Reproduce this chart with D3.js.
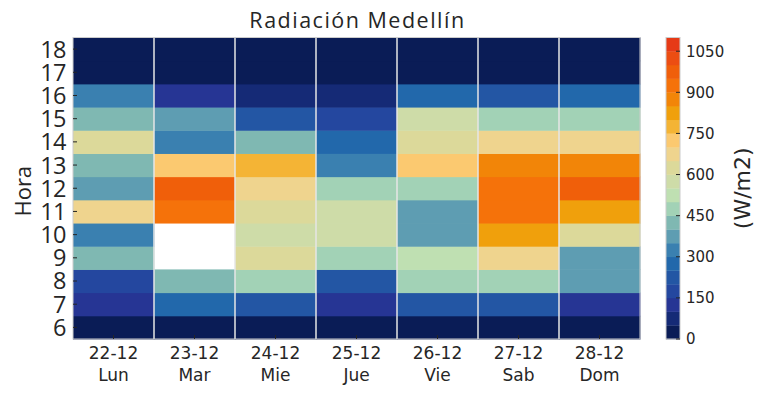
<!DOCTYPE html>
<html>
<head>
<meta charset="utf-8">
<script src="https://cdn.jsdelivr.net/npm/d3@7"></script>
<style>
  body { margin: 0; background: #fff; }
  svg { display: block; }
  text { fill: #262626; }
</style>
</head>
<body>
<svg id="chart" width="767" height="395"></svg>
<script>
// dias y horas
const dias = ["22-12", "23-12", "24-12", "25-12", "26-12", "27-12", "28-12"];
const diasSemana = ["Lun", "Mar", "Mie", "Jue", "Vie", "Sab", "Dom"];
const horas = [6, 7, 8, 9, 10, 11, 12, 13, 14, 15, 16, 17, 18];

// radiacion (W/m2) por hora, de 6 a 18
const lun = [20, 125, 175, 420, 320, 670, 370, 430, 620, 420, 330, 5, 0];
const mar = [15, 270, 430, null, null, 920, 970, 720, 320, 380, 130, 0, 0];
const mie = [20, 230, 480, 630, 570, 610, 680, 780, 440, 220, 80, 0, 0];
const jue = [20, 120, 230, 470, 580, 570, 490, 330, 280, 180, 70, 0, 0];
const vie = [20, 220, 460, 530, 370, 360, 470, 730, 640, 590, 260, 0, 0];
const sab = [20, 240, 480, 690, 830, 930, 940, 880, 660, 490, 210, 0, 0];
const dom = [20, 140, 380, 390, 640, 840, 990, 870, 680, 460, 290, 0, 0];
const series = [lun, mar, mie, jue, vie, sab, dom];

// niveles de la barra de color
const niveles = d3.range(0, 1101, 50);
const colores = [
  "#0a1c56", "#152a76", "#263594", "#24479f", "#2356a4", "#2268ab",
  "#3a80b0", "#5e9db2", "#7fb8b2", "#a2d2b6", "#bfe0b2", "#cedca8",
  "#dcd99a", "#efd48e", "#fbc970", "#f4b435", "#f0a00c", "#f28508",
  "#f5720a", "#f05f0a", "#ec4d12", "#e63a16"
];
const cbTicks = [0, 150, 300, 450, 600, 750, 900, 1050];

const svg = d3.select("#chart");
const font = "'DejaVu Sans', sans-serif";
const font2 = "'Open Sans', sans-serif";
const plot = { left: 73, right: 640, top: 37.5, bottom: 339 };

const color = d3.scaleThreshold()
  .domain(niveles.slice(1, -1))
  .range(colores);

const x = d3.scaleBand().domain(dias).range([plot.left, plot.right]);
const y = d3.scaleBand().domain(horas.slice().reverse()).range([plot.top, plot.bottom]);

// celdas
const cells = [];
series.forEach((vals, i) => {
  vals.forEach((v, j) => {
    if (v !== null) cells.push({ dia: dias[i], hora: horas[j], v: v });
  });
});

svg.append("g")
  .selectAll("rect")
  .data(cells)
  .enter().append("rect")
  .attr("x", d => x(d.dia))
  .attr("y", d => y(d.hora))
  .attr("width", x.bandwidth() + 0.5)
  .attr("height", y.bandwidth() + 0.5)
  .attr("fill", d => color(d.v));

// separadores de columnas
svg.append("g")
  .selectAll("line")
  .data(dias.slice(1))
  .enter().append("line")
  .attr("x1", d => x(d)).attr("x2", d => x(d))
  .attr("y1", plot.top).attr("y2", plot.bottom)
  .attr("stroke", "#e6e6e6")
  .attr("stroke-width", 1.5);

// borde
svg.append("rect")
  .attr("x", plot.left).attr("y", plot.top)
  .attr("width", plot.right - plot.left)
  .attr("height", plot.bottom - plot.top)
  .attr("fill", "none")
  .attr("stroke", "#cccccc")
  .attr("stroke-width", 1);

// eje y
const yAxis = svg.append("g");
horas.forEach(h => {
  const cy = y(h) + y.bandwidth() / 2;
  yAxis.append("line")
    .attr("x1", plot.left).attr("x2", plot.left + 4)
    .attr("y1", cy).attr("y2", cy)
    .attr("stroke", "#262626").attr("stroke-width", 1);
  yAxis.append("text")
    .attr("x", 66).attr("y", cy)
    .attr("dy", "0.36em")
    .attr("text-anchor", "end")
    .attr("font-family", font2)
    .attr("font-size", 23.5)
    .attr("letter-spacing", -0.5)
    .text(h);
});

svg.append("text")
  .attr("transform", `translate(31,${(plot.top + plot.bottom) / 2 + 3}) rotate(-90)`)
  .attr("text-anchor", "middle")
  .attr("font-family", font2)
  .attr("font-size", 22)
  .text("Hora");

// eje x
const xAxis = svg.append("g");
dias.forEach((d, i) => {
  const cx = x(d) + x.bandwidth() / 2;
  xAxis.append("line")
    .attr("x1", cx).attr("x2", cx)
    .attr("y1", plot.bottom).attr("y2", plot.bottom - 4)
    .attr("stroke", "#262626").attr("stroke-width", 1);
  xAxis.append("text")
    .attr("x", cx).attr("y", 359)
    .attr("text-anchor", "middle")
    .attr("font-family", font)
    .attr("font-size", 17)
    .text(d);
  xAxis.append("text")
    .attr("x", cx).attr("y", 381)
    .attr("text-anchor", "middle")
    .attr("font-family", font)
    .attr("font-size", 17)
    .text(diasSemana[i]);
});

// titulo
svg.append("text")
  .attr("x", (plot.left + plot.right) / 2 + 1)
  .attr("y", 28)
  .attr("text-anchor", "middle")
  .attr("font-family", font2)
  .attr("font-size", 21.5)
  .attr("letter-spacing", 1.5)
  .text("Radiación Medellín");

// barra de color
const cb = { left: 666, width: 14 };
const cy = d3.scaleLinear().domain([0, 1100]).range([plot.bottom, plot.top]);
const cbar = svg.append("g");
cbar.selectAll("rect")
  .data(colores)
  .enter().append("rect")
  .attr("x", cb.left)
  .attr("y", (c, i) => cy(niveles[i + 1]))
  .attr("width", cb.width)
  .attr("height", (c, i) => cy(niveles[i]) - cy(niveles[i + 1]) + 0.3)
  .attr("fill", c => c);
cbar.append("rect")
  .attr("x", cb.left).attr("y", plot.top)
  .attr("width", cb.width).attr("height", plot.bottom - plot.top)
  .attr("fill", "none").attr("stroke", "#cccccc");

cbTicks.forEach(t => {
  cbar.append("line")
    .attr("x1", cb.left + cb.width - 4).attr("x2", cb.left + cb.width)
    .attr("y1", cy(t)).attr("y2", cy(t))
    .attr("stroke", "#262626");
  cbar.append("text")
    .attr("x", 686).attr("y", cy(t))
    .attr("dy", "0.36em")
    .attr("font-family", font)
    .attr("font-size", 15)
    .text(t);
});

svg.append("text")
  .attr("transform", `translate(750,${(plot.top + plot.bottom) / 2}) rotate(-90)`)
  .attr("text-anchor", "middle")
  .attr("font-family", font)
  .attr("font-size", 22)
  .text("(W/m2)");
</script>
</body>
</html>
